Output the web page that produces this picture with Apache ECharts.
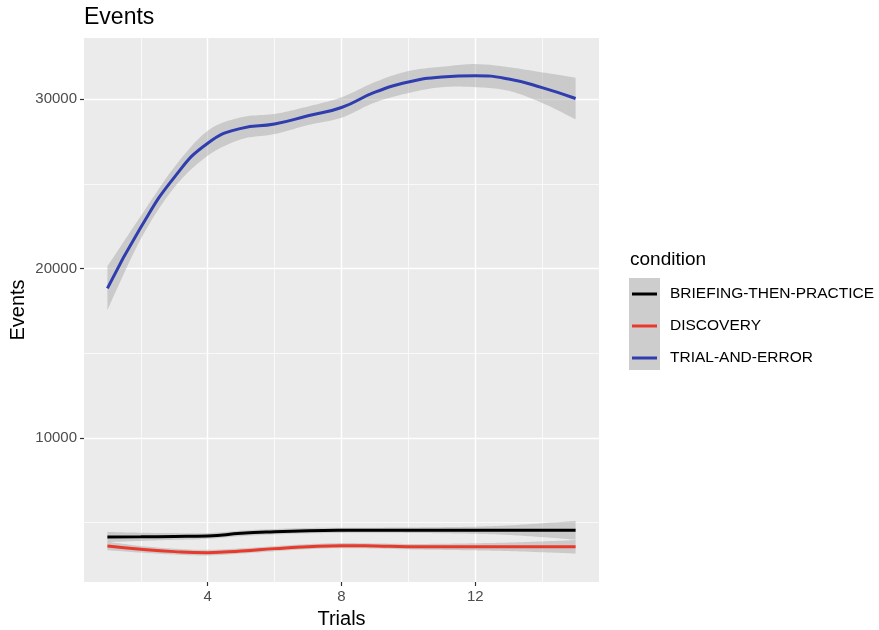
<!DOCTYPE html>
<html>
<head>
<meta charset="utf-8">
<script src="https://cdn.jsdelivr.net/npm/echarts@6/dist/echarts.min.js"></script>
<style>html,body{margin:0;padding:0;background:#fff}#c{width:879px;height:630px}</style>
</head>
<body>
<div id="c"></div>
<script>
const trials = [1,2,3,4,5,6,7,8,9,10,11,12,13,14,15];
const seriesNames = ['BRIEFING-THEN-PRACTICE','DISCOVERY','TRIAL-AND-ERROR'];
const briefing = [4160,4170,4190,4218,4375,4470,4530,4555,4560,4560,4560,4560,4560,4560,4560];
const briefingLo = [3860,3930,3990,4050,4210,4310,4370,4400,4410,4400,4380,4350,4280,4150,4000];
const briefingHi = [4460,4410,4390,4390,4540,4630,4690,4710,4710,4720,4740,4770,4840,4970,5110];
const discovery = [3630,3434,3296,3237,3335,3473,3590,3650,3630,3590,3580,3580,3580,3580,3580];
const discoveryLo = [3380,3240,3120,3070,3180,3320,3440,3500,3480,3430,3400,3370,3330,3260,3180];
const discoveryHi = [3880,3630,3470,3400,3490,3620,3740,3800,3780,3750,3760,3790,3830,3900,3980];
const trialError = [18830,22430,25380,27390,28270,28525,29010,29500,30400,31000,31300,31375,31180,30670,30030];
const trialErrorLo = [17550,21750,24780,26650,27620,27930,28460,28900,29800,30350,30700,30700,30480,29770,28800];
const trialErrorHi = [20130,23100,25980,28130,28920,29120,29560,30100,31000,31650,31900,32060,31880,31570,31260];
const xTicks = [4,8,12];
const yTicks = [10000,20000,30000];
const xGridMajor = [4,8,12];
const xGridMinor = [2,6,10,14];
const yGridMajor = [10000,20000,30000];
const yGridMinor = [5000,15000,25000];
const colors = ['#000000','#E8392A','#2F3DAE'];

const pairs = (ys) => trials.map((t,i)=>[t, ys[i]]);
const FONT = '"Liberation Sans", Arial, Helvetica, sans-serif';

// Catmull-Rom sampling in pixel space for smooth ribbon edges
function smoothPts(pts){
  const out = [];
  const n = pts.length;
  for (let i=0;i<n-1;i++){
    const p0 = pts[Math.max(0,i-1)], p1 = pts[i], p2 = pts[i+1], p3 = pts[Math.min(n-1,i+2)];
    const steps = 12;
    for (let s=0;s<steps;s++){
      const t = s/steps, t2=t*t, t3=t2*t;
      const f = (a,b,c,d)=>0.5*((2*b)+(-a+c)*t+(2*a-5*b+4*c-d)*t2+(-a+3*b-3*c+d)*t3);
      out.push([f(p0[0],p1[0],p2[0],p3[0]), f(p0[1],p1[1],p2[1],p3[1])]);
    }
  }
  out.push(pts[n-1]);
  return out;
}

function ribbonSeries(lo, hi){
  return {
    type:'custom', coordinateSystem:'cartesian2d', silent:true, z:2, animation:false,
    data: trials.map((t,i)=>[t, lo[i], hi[i]]),
    encode:{x:0, y:[1,2]},
    renderItem:(params, api)=>{
      if (params.dataIndex !== 0) return null;
      const up = trials.map((t,i)=>api.coord([t, hi[i]]));
      const dn = trials.map((t,i)=>api.coord([t, lo[i]]));
      const poly = smoothPts(up).concat(smoothPts(dn).reverse());
      return {type:'polygon', shape:{points:poly}, style:{fill:'rgba(153,153,153,0.4)'}};
    }
  };
}

const gridLines = [];
xGridMinor.forEach(v=>gridLines.push({xAxis:v, lineStyle:{color:'#ffffff', width:0.7, type:'solid'}}));
yGridMinor.forEach(v=>gridLines.push({yAxis:v, lineStyle:{color:'#ffffff', width:0.7, type:'solid'}}));
xGridMajor.forEach(v=>gridLines.push({xAxis:v, lineStyle:{color:'#ffffff', width:1.4, type:'solid'}}));
yGridMajor.forEach(v=>gridLines.push({yAxis:v, lineStyle:{color:'#ffffff', width:1.4, type:'solid'}}));

const series = [
  ribbonSeries(briefingLo, briefingHi),
  ribbonSeries(discoveryLo, discoveryHi),
  ribbonSeries(trialErrorLo, trialErrorHi)
];
[briefing, discovery, trialError].forEach((m,k)=>{
  series.push({
    type:'line', name:seriesNames[k], data:pairs(m), smooth:true, symbol:'none',
    lineStyle:{color:colors[k], width:3}, itemStyle:{color:colors[k]}, z:3, animation:false,
    markLine: k===0 ? {z:1, silent:true, symbol:['none','none'], label:{show:false}, animation:false, data:gridLines} : undefined
  });
});

const chart = echarts.init(document.getElementById('c'), null, {renderer:'canvas'});
chart.setOption({
  animation:false,
  backgroundColor:'#ffffff',
  textStyle:{fontFamily:FONT},
  title:{text:'Events', left:84, top:6, padding:0, textStyle:{fontFamily:FONT, fontSize:23, fontWeight:'normal', color:'#000'}},
  grid:{left:84, right:280, top:38, bottom:48, show:true, backgroundColor:'#EBEBEB', borderWidth:0, outerBoundsMode:'none', containLabel:false},
  xAxis:{
    type:'value', min:0.3, max:15.7,
    name:'Trials', nameLocation:'middle', nameGap:27, nameMoveOverlap:false,
    nameTextStyle:{fontFamily:FONT, fontSize:20, color:'#000'},
    axisLine:{show:false},
    axisTick:{show:true, length:4, customValues:xTicks, lineStyle:{color:'#333333', width:1.2}},
    axisLabel:{customValues:xTicks, color:'#4D4D4D', fontSize:15, margin:7, fontFamily:FONT},
    splitLine:{show:false}
  },
  yAxis:{
    type:'value', min:1504, max:33599,
    name:'Events', nameLocation:'middle', nameGap:56, nameRotate:90, nameMoveOverlap:false,
    nameTextStyle:{fontFamily:FONT, fontSize:20, color:'#000'},
    axisLine:{show:false},
    axisTick:{show:true, length:4, customValues:yTicks, lineStyle:{color:'#333333', width:1.2}},
    axisLabel:{customValues:yTicks, color:'#4D4D4D', fontSize:15, margin:7, fontFamily:FONT, formatter:(v)=>String(v)},
    splitLine:{show:false}
  },
  legend:{
    data:seriesNames, orient:'vertical', left:632, top:285, padding:0,
    icon:'rect', itemWidth:25, itemHeight:3, itemGap:14,
    textStyle:{fontFamily:FONT, fontSize:15.5, color:'#000', lineHeight:18, padding:[0,0,0,8]},
    selectedMode:false
  },
  graphic:[
    {type:'rect', left:629, top:278, shape:{width:31, height:92}, style:{fill:'#CDCDCD'}, z:-1, silent:true},
    {type:'text', left:630, top:250, style:{text:'condition', font:'19px '+FONT, fill:'#000'}}
  ],
  series:series
});
</script>
</body>
</html>
